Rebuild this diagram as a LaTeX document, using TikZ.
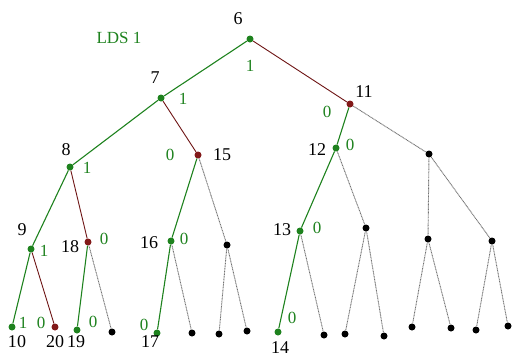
\documentclass[tikz,border=0pt]{standalone}
\usepackage{fontspec}
\setmainfont{Liberation Serif}
\definecolor{ldsgreen}{RGB}{30,130,30}
\definecolor{ldsred}{RGB}{130,25,25}

\begin{document}
\begin{tikzpicture}[
        x=1pt, y=-1pt,
        dotnode/.style={circle, fill, inner sep=0pt, minimum size=7pt},
        greendot/.style={dotnode, ldsgreen},
        reddot/.style={dotnode, ldsred},
        blackdot/.style={dotnode, black},
        num/.style={anchor=base, inner sep=0pt, font=\fontsize{18}{18}\selectfont},
        bit/.style={num, text=ldsgreen, font=\fontsize{17}{17}\selectfont},
        taken/.style={ldsgreen, line width=1.1pt},
        failed/.style={ldsred!85!black, line width=0.9pt},
        unseen/.style={black!55, dash pattern=on 1pt off 0.6pt, line width=0.9pt}
    ]

    \useasboundingbox (0,0) rectangle (513,357);

    \node[greendot] (n6) at (250,39) {};
    \node[greendot] (n7) at (161,98) {};
    \node[reddot] (n11) at (350,104) {};
    \node[greendot] (n8) at (70,167) {};
    \node[reddot] (n15) at (198,155) {};
    \node[greendot] (n12) at (336,148) {};
    \node[blackdot] (k1) at (429,154) {};
    \node[greendot] (n9) at (31,249) {};
    \node[reddot] (n18) at (88,242) {};
    \node[greendot] (n16) at (171,241) {};
    \node[blackdot] (k2) at (227,245) {};
    \node[greendot] (n13) at (300,231) {};
    \node[blackdot] (k3) at (366,228) {};
    \node[blackdot] (k4) at (428,239) {};
    \node[blackdot] (k5) at (492,241) {};

    \node[greendot] (n10) at (12,327) {};
    \node[reddot] (n20) at (55,327) {};
    \node[greendot] (n19) at (77,330) {};
    \node[blackdot] (k6) at (112,332) {};
    \node[greendot] (n17) at (157,333) {};
    \node[blackdot] (k7) at (192,333) {};
    \node[blackdot] (k8) at (219,334) {};
    \node[blackdot] (k9) at (247,331) {};
    \node[greendot] (n14) at (278,332) {};
    \node[blackdot] (k10) at (324,335) {};
    \node[blackdot] (k11) at (345,334) {};
    \node[blackdot] (k12) at (384,336) {};
    \node[blackdot] (k13) at (412,327) {};
    \node[blackdot] (k14) at (451,328) {};
    \node[blackdot] (k15) at (476,330) {};
    \node[blackdot] (k16) at (508,326) {};

    \draw[taken] (n6) -- (n7);
    \draw[failed] (n6) -- (n11);
    \draw[taken] (n7) -- (n8);
    \draw[failed] (n7) -- (n15);
    \draw[taken] (n11) -- (n12);
    \draw[unseen] (n11) -- (k1);
    \draw[taken] (n8) -- (n9);
    \draw[failed] (n8) -- (n18);
    \draw[taken] (n15) -- (n16);
    \draw[unseen] (n15) -- (k2);
    \draw[taken] (n12) -- (n13);
    \draw[unseen] (n12) -- (k3);
    \draw[unseen] (k1) -- (k4);
    \draw[unseen] (k1) -- (k5);
    \draw[taken] (n9) -- (n10);
    \draw[failed] (n9) -- (n20);
    \draw[taken] (n18) -- (n19);
    \draw[unseen] (n18) -- (k6);
    \draw[taken] (n16) -- (n17);
    \draw[unseen] (n16) -- (k7);
    \draw[unseen] (k2) -- (k8);
    \draw[unseen] (k2) -- (k9);
    \draw[taken] (n13) -- (n14);
    \draw[unseen] (n13) -- (k10);
    \draw[unseen] (k3) -- (k11);
    \draw[unseen] (k3) -- (k12);
    \draw[unseen] (k4) -- (k13);
    \draw[unseen] (k4) -- (k14);
    \draw[unseen] (k5) -- (k15);
    \draw[unseen] (k5) -- (k16);

    \node[bit] (title) at (119,43) {LDS 1};

    \node[num] (t6) at (238,24) {6};
    \node[num] (t7) at (155,83) {7};
    \node[num] (t8) at (66,155) {8};
    \node[num] (t15) at (222,160) {15};
    \node[num] (t11) at (364,97) {11};
    \node[num] (t12) at (317,155) {12};
    \node[num] (t9) at (22,235) {9};
    \node[num] (t18) at (70,252) {18};
    \node[num] (t16) at (149,248) {16};
    \node[num] (t13) at (282,235) {13};
    \node[num] (t10) at (17,347) {10};
    \node[num] (t20) at (55,347) {20};
    \node[num] (t19) at (76,347) {19};
    \node[num] (t17) at (150,347) {17};
    \node[num] (t14) at (280,353) {14};

    \node[bit] (b6) at (250,71) {1};
    \node[bit] (b7) at (183,104) {1};
    \node[bit] (b8) at (87,173) {1};
    \node[bit] (b15) at (170,160) {0};
    \node[bit] (b11) at (327,117) {0};
    \node[bit] (b12) at (350,150) {0};
    \node[bit] (b9) at (44,256) {1};
    \node[bit] (b18) at (104,244) {0};
    \node[bit] (b16) at (184,244) {0};
    \node[bit] (b13) at (317,233) {0};
    \node[bit] (b10) at (23,328) {1};
    \node[bit] (b20) at (41,328) {0};
    \node[bit] (b19) at (93,327) {0};
    \node[bit] (b17) at (144,330) {0};
    \node[bit] (b14) at (292,323) {0};

    \end{tikzpicture}
\end{document}
